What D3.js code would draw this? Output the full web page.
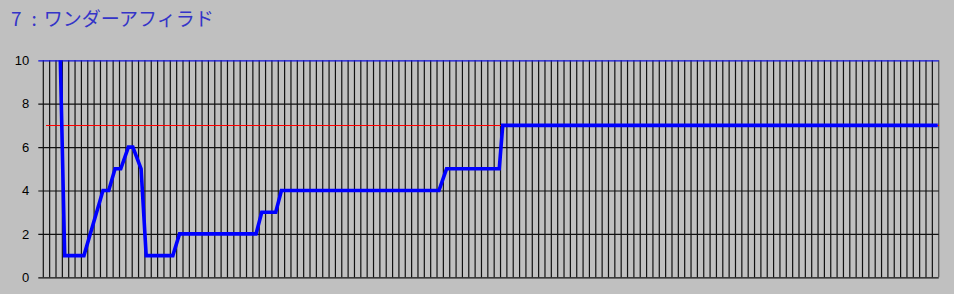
<!DOCTYPE html>
<html>
<head>
<meta charset="UTF-8">
<title>7 : ワンダーアフィラド</title>
<script src="https://cdnjs.cloudflare.com/ajax/libs/d3/7.8.5/d3.min.js"></script>
<style>
  html, body { margin: 0; padding: 0; background: #c0c0c0; }
  svg { display: block; }
</style>
</head>
<body>
<script>
// chart data
var title = "7 : ワンダーアフィラド";
var stepX = [2.53, 3.37, 6.4, 9.4, 10.3, 11.3, 12.2, 13.4, 14.1, 15.4, 16.2, 20.4, 21.45, 33.5, 34.4, 36.6, 37.5, 62.3, 63.5, 71.8, 72.35, 140.85];
var stepY = [12, 1, 1, 4, 4, 5, 5, 6, 6, 5, 1, 1, 2, 2, 3, 3, 4, 4, 5, 5, 7, 7];
var refValue = 7;
var refFrom = 0.4;
var yTicks = [0, 2, 4, 6, 8, 10];
var columns = 141;

(function(){
    var w = 954, h = 294,
        pl = 43.3, pr = 938.7,
        pt = 60.3, pb = 277.3;

    var svg = d3.select("body").append("svg")
        .attr("width", w)
        .attr("height", h);

    var x = d3.scaleLinear().domain([0, columns]).range([pl, pr]);
    var y = d3.scaleLinear().domain([0, 10]).range([pb, pt]);

    var parts = title.split(":");
    var t = svg.append("text")
        .attr("x", 11)
        .attr("y", 26)
        .attr("fill", "#3434c8")
        .style("font-family", "'Noto Sans CJK JP', sans-serif")
        .style("font-size", "19px");
    t.append("tspan").text(parts[0].trim());
    t.append("tspan").attr("dx", 10).text(":");
    t.append("tspan").attr("dx", 7).text(parts[1].trim());

    // vertical grid
    svg.append("g").selectAll("line")
        .data(d3.range(0, columns))
        .enter().append("line")
        .attr("x1", function(d){ return x(d); })
        .attr("x2", function(d){ return x(d); })
        .attr("y1", pt)
        .attr("y2", pb)
        .attr("stroke", "#111")
        .attr("stroke-width", 1.2);

    // right frame
    svg.append("line")
        .attr("x1", x(columns)).attr("x2", x(columns))
        .attr("y1", pt).attr("y2", pb)
        .attr("stroke", "#5a5a5a")
        .attr("stroke-width", 1.4);

    // y axis with gridlines
    var yAxis = d3.axisLeft(y)
        .tickValues(yTicks)
        .tickSize(-(pr - pl) - 5)
        .tickPadding(9)
        .tickFormat(d3.format("d"));

    var ag = svg.append("g")
        .attr("transform", "translate(" + (pl - 5) + ",0)")
        .call(yAxis);
    ag.select(".domain").remove();
    ag.selectAll(".tick line")
        .attr("x1", 0)
        .attr("x2", pr - pl + 5)
        .attr("stroke", function(d){ return d === 10 ? "#1010e0" : "#111"; })
        .attr("stroke-width", 1.2);
    ag.selectAll(".tick text")
        .attr("x", -9)
        .attr("fill", "#000")
        .style("font-family", "'Liberation Sans', Arial, sans-serif")
        .style("font-size", "13px");

    // reference line, snapped to a pixel row so it stays crisp
    var ry = Math.round(y(refValue)) + 0.5;
    svg.append("line")
        .attr("x1", x(refFrom)).attr("x2", x(columns))
        .attr("y1", ry).attr("y2", ry)
        .attr("stroke", "#ff0000")
        .attr("stroke-width", 1)
        .attr("shape-rendering", "crispEdges");

    svg.append("clipPath").attr("id", "plot")
        .append("rect")
        .attr("x", pl).attr("y", pt)
        .attr("width", pr - pl).attr("height", pb - pt);

    var line = d3.line()
        .x(function(d, i){ return x(stepX[i]); })
        .y(function(d){ return y(d); });

    svg.append("path")
        .datum(stepY)
        .attr("clip-path", "url(#plot)")
        .attr("d", line)
        .attr("fill", "none")
        .attr("stroke", "#0000ff")
        .attr("stroke-width", 3.6);
})();
</script>
</body>
</html>
